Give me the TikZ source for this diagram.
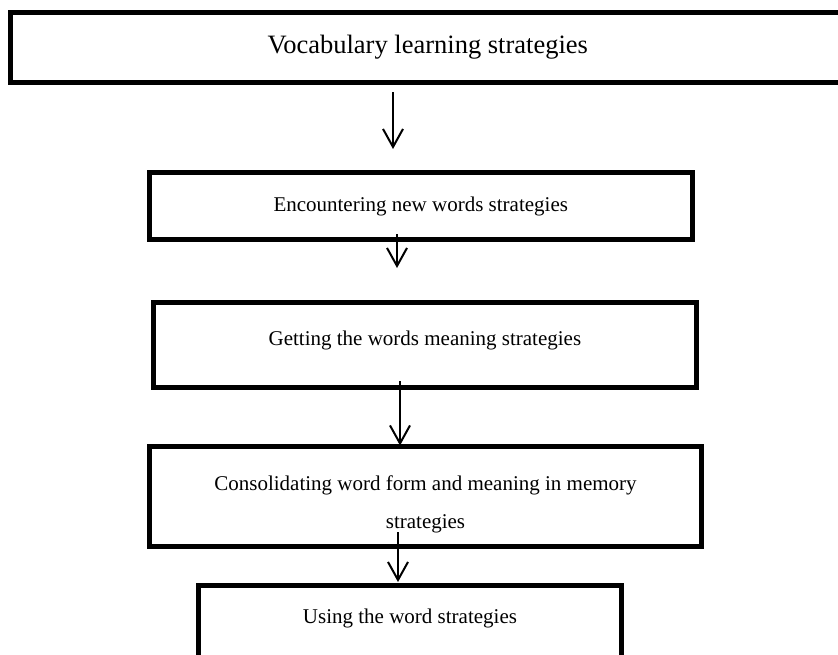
\documentclass[tikz,border=0pt]{standalone}
\usepackage{fontspec}
\setmainfont{Liberation Serif}
\usetikzlibrary{arrows.meta}
\tikzset{
  box/.style={draw=black, line width=5pt, outer sep=0pt, inner sep=0pt, fill=none},
  txt/.style={font=\fontsize{21}{38}\selectfont, align=center, inner sep=0pt},
  bigtxt/.style={font=\fontsize{26.5}{30}\selectfont, inner sep=0pt},
  arr/.style={line width=2pt, -{Straight Barb[length=18pt,width=20pt]}}
}
\begin{document}
\begin{tikzpicture}[x=1pt,y=-1pt]
\useasboundingbox (0,0) rectangle (838,654);
\clip (0,0) rectangle (838,654);
\node[box, minimum width=834.5pt, minimum height=70pt,
      label={[bigtxt]center:Vocabulary learning strategies}] (b1) at (427.75,47.5) {};
\node[box, minimum width=543.5pt, minimum height=67pt,
      label={[txt]center:Encountering new words strategies}] (b2) at (420.75,206) {};
\node[box, minimum width=543.2pt, minimum height=85pt,
      label={[txt, yshift=5pt]center:Getting the words meaning strategies}] (b3) at (424.9,345) {};
\node[box, minimum width=552pt, minimum height=99.5pt,
      label={[txt, yshift=-8pt]center:Consolidating word form and meaning in memory\\strategies}] (b4) at (425.5,496.25) {};
\node[box, anchor=north, minimum width=423pt, minimum height=110pt,
      label={[txt, yshift=22.5pt]center:Using the word strategies}] (b5) at (410,585.5) {};
\draw[arr] ([shift={(-34.75,9.5)}]b1.south) -- ([shift={(-27.75,-23.5)}]b2.north);
\draw[arr] ([shift={(-23.75,-5.5)}]b2.south) -- ([shift={(-27.9,-34.5)}]b3.north);
\draw[arr] ([shift={(-24.9,-6.5)}]b3.south) -- ([shift={(-25.5,-1)}]b4.north);
\draw[arr] ([shift={(-27.5,-14)}]b4.south) -- ([shift={(-12,-3.5)}]b5.north);
\end{tikzpicture}
\end{document}
